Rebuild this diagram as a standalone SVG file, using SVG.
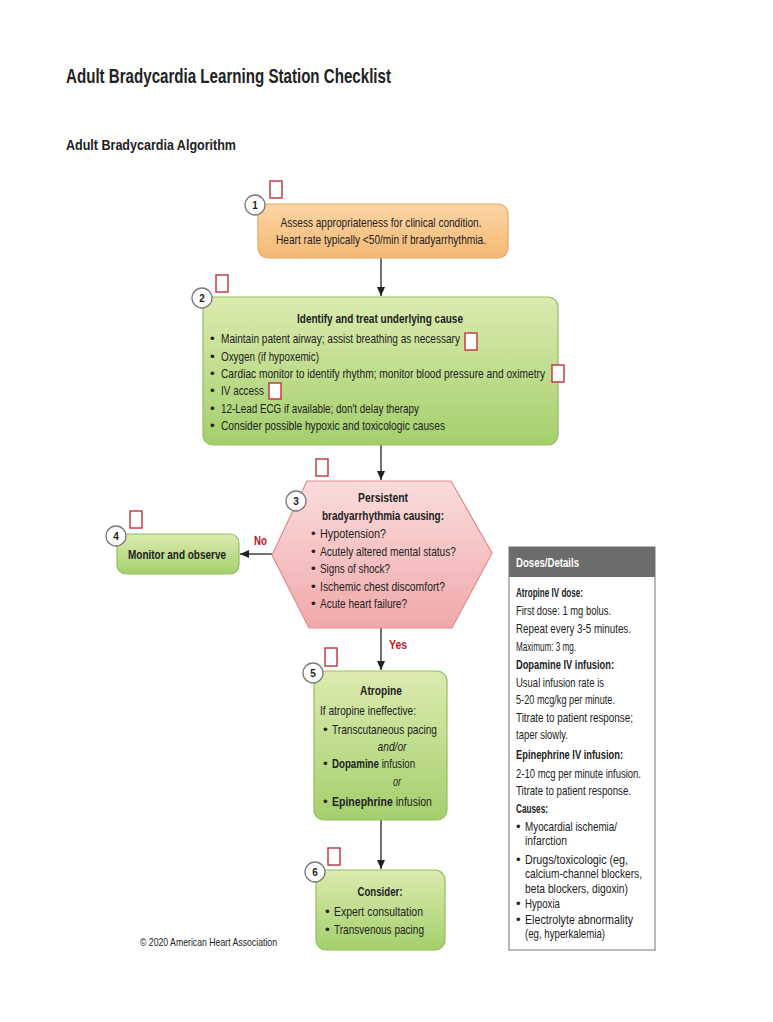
<svg xmlns="http://www.w3.org/2000/svg" width="773" height="1022" viewBox="0 0 773 1022">
<defs>
<linearGradient id="gOr" x1="0" y1="0" x2="0" y2="1"><stop offset="0" stop-color="#fbd6a6"/><stop offset="1" stop-color="#f6b874"/></linearGradient>
<linearGradient id="gGr" x1="0" y1="0" x2="0" y2="1"><stop offset="0" stop-color="#dcebb0"/><stop offset="1" stop-color="#a4cf6c"/></linearGradient>
<linearGradient id="gPk" x1="0" y1="0" x2="0" y2="1"><stop offset="0" stop-color="#fbdcdc"/><stop offset="1" stop-color="#f0a9ab"/></linearGradient>
<marker id="arr" markerUnits="userSpaceOnUse" markerWidth="9" markerHeight="8" refX="9" refY="4" orient="auto"><path d="M0,0 L9,4 L0,8 z" fill="#222"/></marker>
</defs>
<style>
text{font-family:"Liberation Sans",Arial,sans-serif;fill:#222;}
.t{font-size:13.5px;}
.b{font-weight:bold;}
.c{text-anchor:middle;}
.i{font-style:italic;}
.num{font-size:10px;font-weight:bold;text-anchor:middle;}
.circ{fill:#fff;stroke:#7a7a7a;stroke-width:1.3;}
.chk{fill:#fff;stroke:#c0323a;stroke-width:1.4;}
.box{stroke-width:1.2;}
.red{fill:#c0141c;font-weight:bold;font-size:13px;}
.ln{stroke:#222;stroke-width:1.3;fill:none;marker-end:url(#arr);}
.dd{font-size:13px;}
</style>
<rect width="773" height="1022" fill="#fff"/>
<text x="66" y="83" font-size="21" class="b" textLength="325" lengthAdjust="spacingAndGlyphs">Adult Bradycardia Learning Station Checklist</text>
<text x="66" y="150" font-size="15.5" class="b" textLength="170" lengthAdjust="spacingAndGlyphs">Adult Bradycardia Algorithm</text>

<g id="connectors">
<line class="ln" x1="381" y1="258" x2="381" y2="296"/>
<line class="ln" x1="381" y1="445" x2="381" y2="480"/>
<line class="ln" x1="272" y1="554" x2="240" y2="554"/>
<line class="ln" x1="381" y1="628" x2="381" y2="670"/>
<line class="ln" x1="381" y1="820" x2="381" y2="869"/>
<text x="254" y="545" class="red" textLength="13" lengthAdjust="spacingAndGlyphs">No</text>
<text x="389" y="649" class="red" textLength="18" lengthAdjust="spacingAndGlyphs">Yes</text>
</g>

<g id="node1">
<rect x="258" y="204" width="250" height="54" rx="10" fill="url(#gOr)" stroke="#eaa766" class="box"/>
<circle cx="255" cy="205" r="10" class="circ"/><text x="255" y="209" class="num">1</text>
<rect x="270" y="181" width="12" height="17" class="chk"/>
<text x="381" y="227" class="t c" textLength="201" lengthAdjust="spacingAndGlyphs">Assess appropriateness for clinical condition.</text>
<text x="381" y="244" class="t c" textLength="210" lengthAdjust="spacingAndGlyphs">Heart rate typically &lt;50/min if bradyarrhythmia.</text>
</g>

<g id="node2">
<rect x="203" y="297" width="355" height="148" rx="10" fill="url(#gGr)" stroke="#93bf5e" class="box"/>
<circle cx="202" cy="298" r="10" class="circ"/><text x="202" y="302" class="num">2</text>
<rect x="216" y="275" width="12" height="17" class="chk"/>
<text x="380" y="323" class="t b c" textLength="166" lengthAdjust="spacingAndGlyphs">Identify and treat underlying cause</text>
<g class="t">
<text x="210" y="343">•</text><text x="221" y="343" textLength="239" lengthAdjust="spacingAndGlyphs">Maintain patent airway; assist breathing as necessary</text>
<text x="210" y="361">•</text><text x="221" y="361" textLength="98" lengthAdjust="spacingAndGlyphs">Oxygen (if hypoxemic)</text>
<text x="210" y="378">•</text><text x="221" y="378" textLength="324" lengthAdjust="spacingAndGlyphs">Cardiac monitor to identify rhythm; monitor blood pressure and oximetry</text>
<text x="210" y="395">•</text><text x="221" y="395" textLength="43" lengthAdjust="spacingAndGlyphs">IV access</text>
<text x="210" y="413">•</text><text x="221" y="413" textLength="198" lengthAdjust="spacingAndGlyphs">12-Lead ECG if available; don't delay therapy</text>
<text x="210" y="430">•</text><text x="221" y="430" textLength="224" lengthAdjust="spacingAndGlyphs">Consider possible hypoxic and toxicologic causes</text>
</g>
<rect x="465" y="333" width="12" height="17" class="chk"/>
<rect x="552" y="365" width="12" height="17" class="chk"/>
<rect x="269" y="383" width="12" height="16" class="chk"/>
</g>

<g id="node3">
<polygon points="307,481 451,481 492,553 452,628 309,628 272,555" fill="url(#gPk)" stroke="#e08c8e" class="box"/>
<circle cx="296" cy="501" r="10" class="circ"/><text x="296" y="505" class="num">3</text>
<rect x="316" y="459" width="12" height="17" class="chk"/>
<text x="383" y="502" class="t b c" textLength="50" lengthAdjust="spacingAndGlyphs">Persistent</text>
<text x="383" y="520" class="t b c" textLength="122" lengthAdjust="spacingAndGlyphs">bradyarrhythmia causing:</text>
<g class="t">
<text x="311" y="538">•</text><text x="320" y="538" textLength="66" lengthAdjust="spacingAndGlyphs">Hypotension?</text>
<text x="311" y="556">•</text><text x="320" y="556" textLength="136" lengthAdjust="spacingAndGlyphs">Acutely altered mental status?</text>
<text x="311" y="573">•</text><text x="320" y="573" textLength="70" lengthAdjust="spacingAndGlyphs">Signs of shock?</text>
<text x="311" y="591">•</text><text x="320" y="591" textLength="125" lengthAdjust="spacingAndGlyphs">Ischemic chest discomfort?</text>
<text x="311" y="608">•</text><text x="320" y="608" textLength="87" lengthAdjust="spacingAndGlyphs">Acute heart failure?</text>
</g>
</g>

<g id="node4">
<rect x="117" y="534" width="122" height="40" rx="9" fill="url(#gGr)" stroke="#93bf5e" class="box"/>
<circle cx="116" cy="536" r="10" class="circ"/><text x="116" y="540" class="num">4</text>
<rect x="130" y="511" width="12" height="17" class="chk"/>
<text x="177" y="559" class="t b c" textLength="98" lengthAdjust="spacingAndGlyphs">Monitor and observe</text>
</g>

<g id="node5">
<rect x="314" y="671" width="133" height="149" rx="10" fill="url(#gGr)" stroke="#93bf5e" class="box"/>
<circle cx="313" cy="673" r="10" class="circ"/><text x="313" y="677" class="num">5</text>
<rect x="325" y="648" width="12" height="18" class="chk"/>
<text x="381" y="695" class="t b c" textLength="42" lengthAdjust="spacingAndGlyphs">Atropine</text>
<text x="320" y="715" class="t" textLength="96" lengthAdjust="spacingAndGlyphs">If atropine ineffective:</text>
<text x="323" y="734" class="t">•</text><text x="332" y="734" class="t" textLength="105" lengthAdjust="spacingAndGlyphs">Transcutaneous pacing</text>
<text x="392" y="751" class="t i c" textLength="29" lengthAdjust="spacingAndGlyphs">and/or</text>
<text x="323" y="768" class="t">•</text>
<text class="t" transform="translate(332,768) scale(0.72,1)"><tspan class="b">Dopamine</tspan> infusion</text>
<text x="397" y="786" class="t i c" textLength="8" lengthAdjust="spacingAndGlyphs">or</text>
<text x="323" y="806" class="t">•</text>
<text class="t" transform="translate(332,806) scale(0.78,1)"><tspan class="b">Epinephrine</tspan> infusion</text>
</g>

<g id="node6">
<rect x="316" y="870" width="129" height="80" rx="10" fill="url(#gGr)" stroke="#93bf5e" class="box"/>
<circle cx="315" cy="872" r="10" class="circ"/><text x="315" y="876" class="num">6</text>
<rect x="328" y="848" width="12" height="17" class="chk"/>
<text x="380" y="896" class="t b c" textLength="45" lengthAdjust="spacingAndGlyphs">Consider:</text>
<text x="325" y="916" class="t">•</text><text x="334" y="916" class="t" textLength="89" lengthAdjust="spacingAndGlyphs">Expert consultation</text>
<text x="325" y="934" class="t">•</text><text x="334" y="934" class="t" textLength="90" lengthAdjust="spacingAndGlyphs">Transvenous pacing</text>
</g>

<text x="140" y="946" font-size="11" textLength="137" lengthAdjust="spacingAndGlyphs">© 2020 American Heart Association</text>

<g id="doses">
<rect x="509" y="547" width="146" height="403" fill="#fff" stroke="#8a8a8a" stroke-width="1.2"/>
<rect x="509" y="547" width="146" height="30" fill="#6c6c6c"/>
<text x="516" y="567" class="dd b" style="fill:#fff" textLength="63" lengthAdjust="spacingAndGlyphs">Doses/Details</text>
<g class="dd">
<text x="516" y="597" class="b" textLength="67" lengthAdjust="spacingAndGlyphs">Atropine IV dose:</text>
<text x="516" y="615" textLength="95" lengthAdjust="spacingAndGlyphs">First dose: 1 mg bolus.</text>
<text x="516" y="633" textLength="115" lengthAdjust="spacingAndGlyphs">Repeat every 3-5 minutes.</text>
<text x="516" y="651" textLength="60" lengthAdjust="spacingAndGlyphs">Maximum: 3 mg.</text>
<text x="516" y="669" class="b" textLength="98" lengthAdjust="spacingAndGlyphs">Dopamine IV infusion:</text>
<text x="516" y="687" textLength="88" lengthAdjust="spacingAndGlyphs">Usual infusion rate is</text>
<text x="516" y="704" textLength="99" lengthAdjust="spacingAndGlyphs">5-20 mcg/kg per minute.</text>
<text x="516" y="722" textLength="117" lengthAdjust="spacingAndGlyphs">Titrate to patient response;</text>
<text x="516" y="739" textLength="52" lengthAdjust="spacingAndGlyphs">taper slowly.</text>
<text x="516" y="759" class="b" textLength="107" lengthAdjust="spacingAndGlyphs">Epinephrine IV infusion:</text>
<text x="516" y="778" textLength="125" lengthAdjust="spacingAndGlyphs">2-10 mcg per minute infusion.</text>
<text x="516" y="795" textLength="115" lengthAdjust="spacingAndGlyphs">Titrate to patient response.</text>
<text x="516" y="813" class="b" textLength="32" lengthAdjust="spacingAndGlyphs">Causes:</text>
<text x="516" y="831">•</text><text x="525" y="831" textLength="92" lengthAdjust="spacingAndGlyphs">Myocardial ischemia/</text>
<text x="525" y="845" textLength="42" lengthAdjust="spacingAndGlyphs">infarction</text>
<text x="516" y="864">•</text><text x="525" y="864" textLength="103" lengthAdjust="spacingAndGlyphs">Drugs/toxicologic (eg,</text>
<text x="525" y="878" textLength="117" lengthAdjust="spacingAndGlyphs">calcium-channel blockers,</text>
<text x="525" y="893" textLength="103" lengthAdjust="spacingAndGlyphs">beta blockers, digoxin)</text>
<text x="516" y="908">•</text><text x="525" y="908" textLength="35" lengthAdjust="spacingAndGlyphs">Hypoxia</text>
<text x="516" y="924">•</text><text x="525" y="924" textLength="108" lengthAdjust="spacingAndGlyphs">Electrolyte abnormality</text>
<text x="525" y="938" textLength="80" lengthAdjust="spacingAndGlyphs">(eg, hyperkalemia)</text>
</g>
</g>
</svg>
